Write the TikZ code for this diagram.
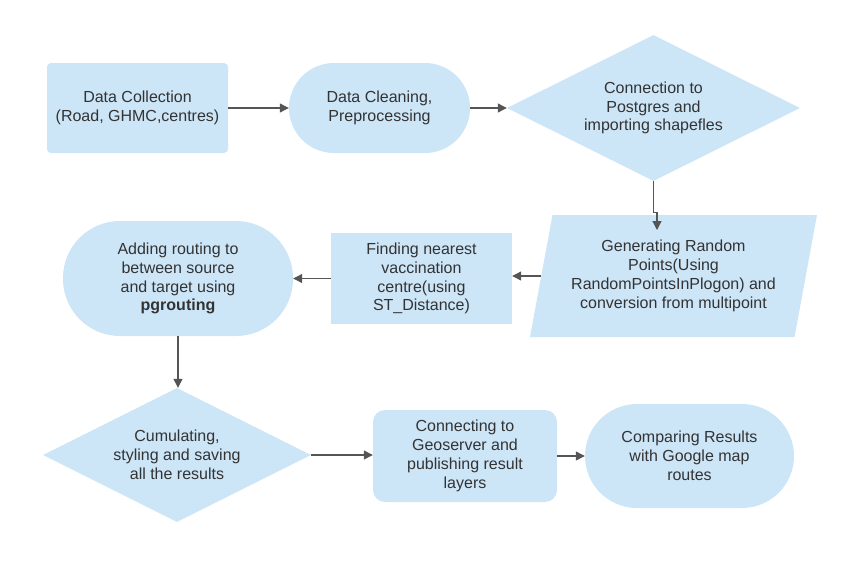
\documentclass[tikz,border=0pt]{standalone}
\usepackage{fontspec}
\setmainfont{Liberation Sans}
\usetikzlibrary{arrows.meta,shapes.geometric,positioning,calc}
\definecolor{boxblue}{RGB}{204,229,247}
\definecolor{txtgray}{RGB}{51,51,51}
\definecolor{arrgray}{RGB}{85,85,85}

\begin{document}
\begin{tikzpicture}
[x=1pt,y=-1pt,
font=\fontsize{16}{18.8}\selectfont,
box/.style={fill=boxblue,text=txtgray,align=center,inner sep=0pt},
rect/.style={box,rectangle,rounded corners=4pt},
stad/.style={box,rectangle},
dia/.style={box,diamond,aspect=2},
para/.style={box,trapezium,trapezium left angle=72.5,trapezium right angle=107.5,trapezium stretches body},
dedge/.style={draw=arrgray,line width=1.2pt,-{Triangle[length=9pt,width=9pt]}}]
\useasboundingbox (0,0) rectangle (848,571);
%% Flow
% first row
\node[rect,minimum width=181pt,minimum height=90pt] (collect) at (137.5,108) {Data Collection\\(Road, GHMC,centres)};
\node[stad,rounded corners=45pt,minimum width=181pt,minimum height=90pt] (clean) at (379.5,108) {Data Cleaning,\\Preprocessing};
\node[dia,minimum width=293pt,minimum height=146pt] (connect) at (653.5,108) {Connection to\\Postgres and\\importing shapefles};
% second row
\node[para,minimum width=287pt,minimum height=122pt] (random) at (673.5,276) {Generating Random\\Points(Using\\RandomPointsInPlogon) and\\conversion from multipoint};
\node[rect,rounded corners=0pt,minimum width=181pt,minimum height=91pt] (nearest) at (421.5,278.5) {Finding nearest\\vaccination\\centre(using\\ST\_Distance)};
\node[stad,rounded corners=57pt,minimum width=230pt,minimum height=115pt] (routing) at (178,278.5) {Adding routing to\\between source\\and target using\\\textbf{pgrouting}};
% third row
\node[dia,minimum width=268pt,minimum height=134pt] (cumul) at (177,455) {Cumulating,\\styling and saving\\all the results};
\node[rect,rounded corners=12pt,minimum width=184pt,minimum height=92pt] (geoserver) at (465,456) {Connecting to\\Geoserver and\\publishing result\\layers};
\node[stad,rounded corners=52pt,minimum width=209pt,minimum height=104pt] (compare) at (689.5,456) {Comparing Results\\with Google map\\routes};
% edges
\coordinate (tip) at (657,230);
\draw[dedge] (collect) -- (clean);
\draw[dedge] (clean) -- (connect);
\draw[dedge] (connect.south) -- ++(0,31) -| (tip);
\draw[dedge] (random.west) -- (random.west -| nearest.east);
\draw[dedge] (nearest) -- (routing);
\draw[dedge] (routing.south) -- (routing.south |- cumul.north);
\draw[dedge] (cumul.east) -- (cumul.east -| geoserver.west);
\draw[dedge] (geoserver) -- (compare);
\end{tikzpicture}
\end{document}
